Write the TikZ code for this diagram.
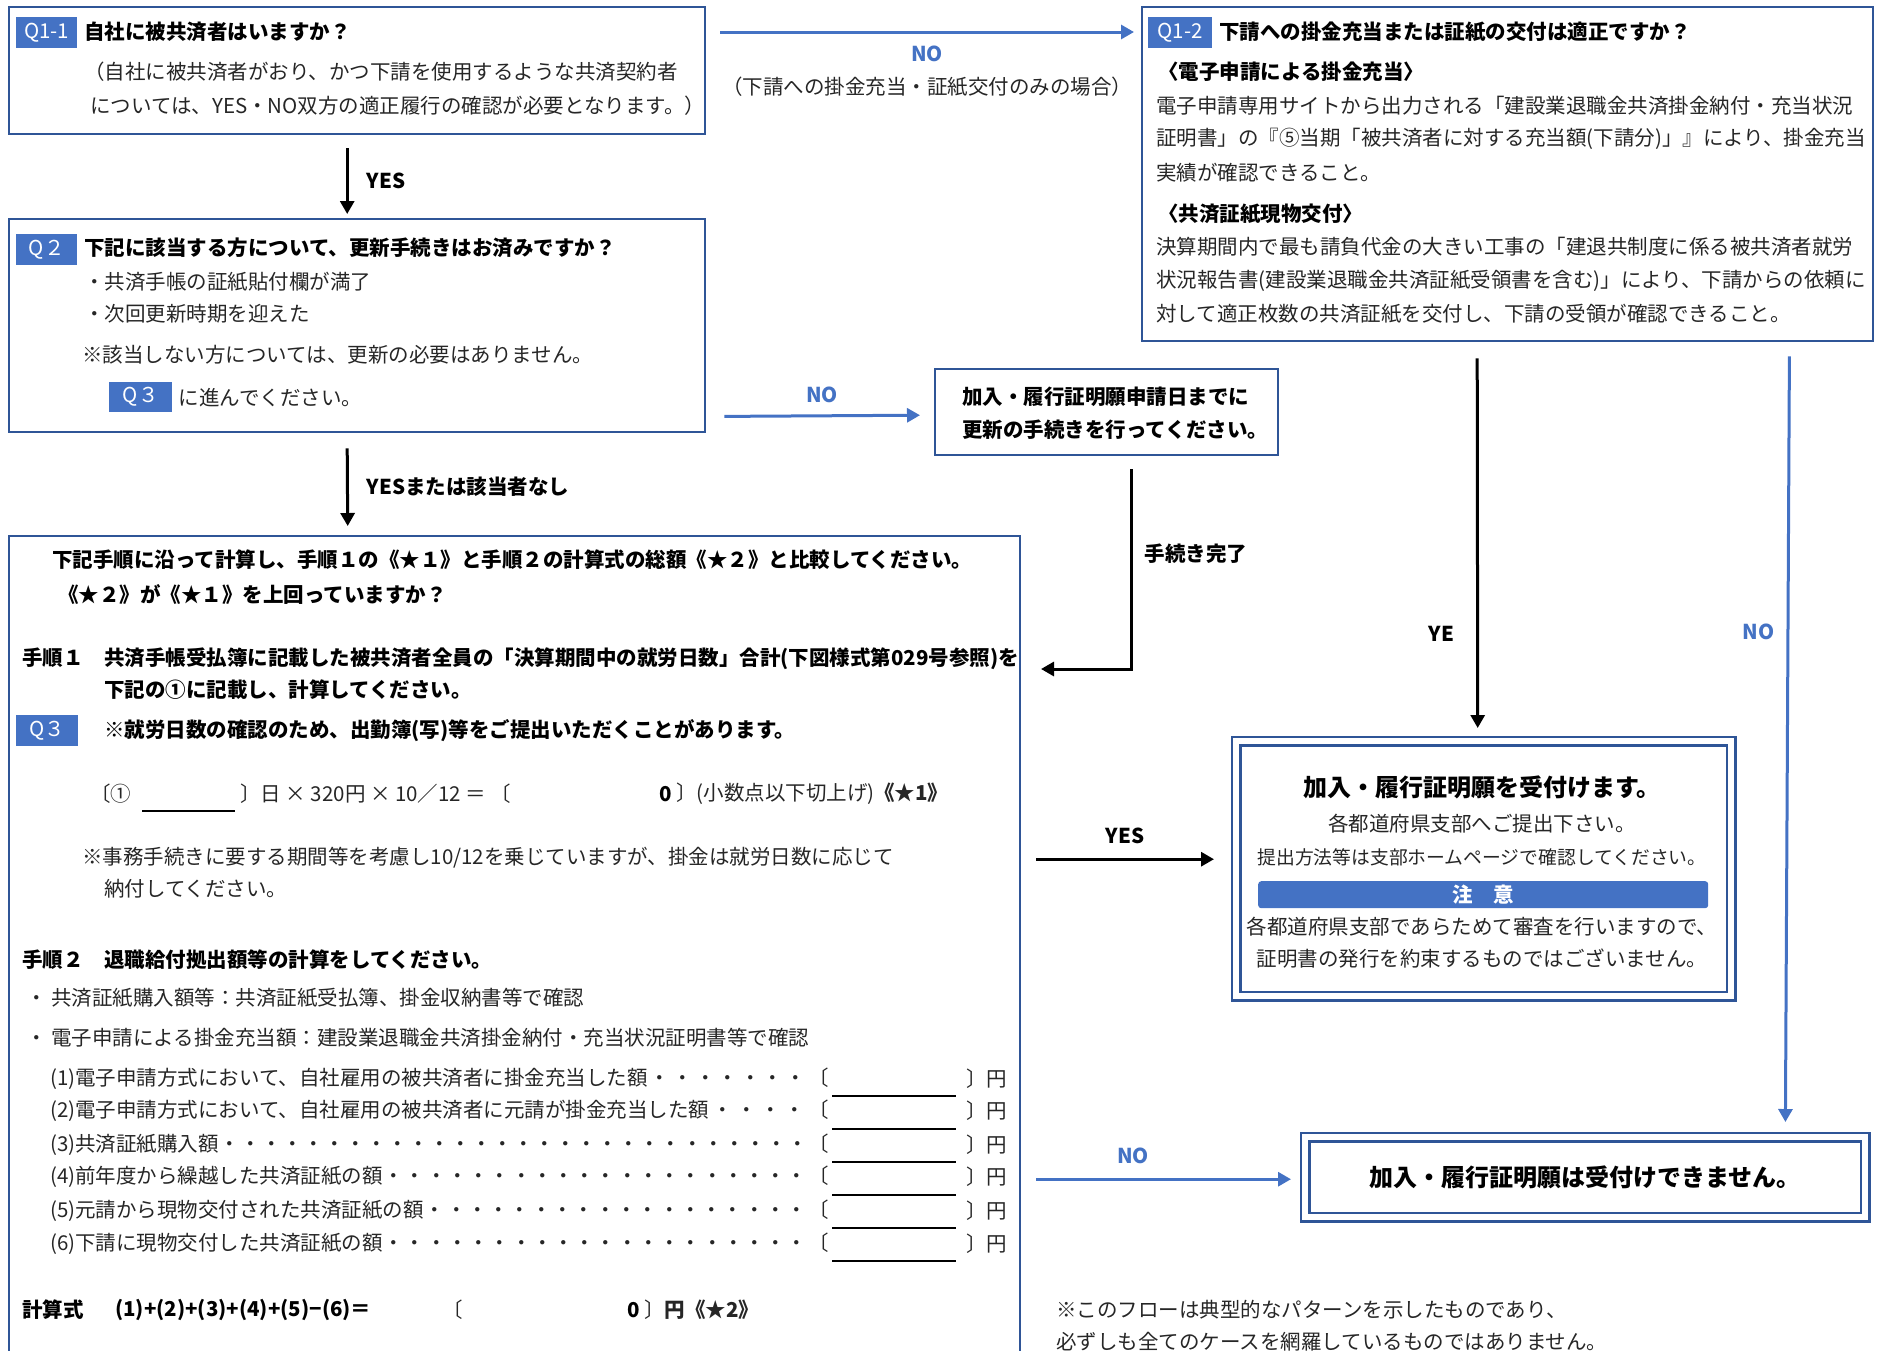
\documentclass[tikz,border=0pt]{standalone}
\usepackage{fontspec}
\setmainfont{Noto Sans CJK JP}
\usetikzlibrary{positioning, arrows.meta}

\definecolor{frameblue}{HTML}{2F5597}
\definecolor{tagblue}{HTML}{4472C4}
\newcommand{\leadrow}[1]{\hbox to 758pt{#1\xleaders\hbox to 20.5pt{\hss・\hss}\hfill}〔}

\begin{document}
\begin{tikzpicture}[
        x=1pt, y=-1pt,
        font=\fontsize{20.5}{25}\selectfont,
        frame/.style={rectangle, draw=frameblue, line width=2.4pt, anchor=north west, inner sep=0pt},
        dframe/.style={frame, double=white, double distance=6pt},
        tag/.style={rectangle, fill=tagblue, text=white, anchor=north west, inner sep=0pt, minimum height=31pt},
        txt/.style={anchor=west, inner sep=0pt, text=black!85},
        btxt/.style={anchor=west, inner sep=0pt, font=\fontsize{20.5}{25}\selectfont\bfseries},
        ctxt/.style={inner sep=0pt, text=black!85},
        lbl/.style={inner sep=0pt, font=\fontsize{20.5}{25}\selectfont\bfseries},
        bluelbl/.style={lbl, text=tagblue},
        arrow/.style={line width=3pt, -{Triangle[length=13pt,width=14pt]}},
        bluearrow/.style={arrow, draw=tagblue},
        blank/.style={line width=2.4pt}
    ]
        \useasboundingbox (0,0) rectangle (1881,1350);

        % Q1-1
        \node[frame, minimum width=696pt, minimum height=127pt] (q11) at (8,6) {};
        \node[tag, minimum width=61pt] (q11tag) at (16,17) {Q1-1};
        \node[btxt] (q11title) at (84,32) {自社に被共済者はいますか？};
        \node[txt] (q11note1) at (84,72) {（自社に被共済者がおり、かつ下請を使用するような共済契約者};
        \node[txt] (q11note2) at (90,106) {については、YES・NO双方の適正履行の確認が必要となります。）};

        % Q2
        \node[frame, minimum width=696pt, minimum height=213pt] (q2) at (8,218) {};
        \node[tag, minimum width=61pt] (q2tag) at (16,234) {Q２};
        \node[btxt] (q2title) at (84,248) {下記に該当する方について、更新手続きはお済みですか？};
        \node[txt] (q2item1) at (84,282) {・共済手帳の証紙貼付欄が満了};
        \node[txt] (q2item2) at (84,314) {・次回更新時期を迎えた};
        \node[txt] (q2note) at (82,355) {※該当しない方については、更新の必要はありません。};
        \node[tag, minimum width=63pt, minimum height=30pt] (q2goto) at (109,382) {Q３};
        \node[txt, right=6pt of q2goto] (q2gotot) {に進んでください。};

        % Q3
        \node[frame, minimum width=1011pt, minimum height=840pt] (q3) at (8,535) {};
        \node[btxt] (q3lead1) at (52,560) {下記手順に沿って計算し、手順１の《★１》と手順２の計算式の総額《★２》と比較してください。};
        \node[btxt] (q3lead2) at (58,594) {《★２》が《★１》を上回っていますか？};
        \node[btxt] (step1a) at (22,659) {手順１　共済手帳受払簿に記載した被共済者全員の「決算期間中の就労日数」合計(下図様式第029号参照)を};
        \node[btxt] (step1b) at (104,690) {下記の①に記載し、計算してください。};
        \node[tag, minimum width=62pt] (q3tag) at (16,715) {Q３};
        \node[btxt] (q3note) at (104,731) {※就労日数の確認のため、出勤簿(写)等をご提出いただくことがあります。};

        \draw[arrow] ([xshift=-10pt,yshift=-13pt]q11.south) -- ([xshift=-10pt,yshift=4pt]q2.north)
            node[lbl, midway, right=18pt] (yes1) {YES};
        \draw[arrow] ([xshift=-10pt,yshift=-15pt]q2.south) -- ([xshift=-167pt,yshift=9pt]q3.north)
            node[lbl, midway, right=18pt] (yes2) {YESまたは該当者なし};

        \node[txt] (f1open) at (90,794) {〔①};
        \draw[blank] (142,811) -- (235,811);
        \node[txt] (f1mid) at (240,794) {〕日 × 320円 × 10／12 ＝ 〔};
        \node[btxt] (f1val) at (659,794) {0};
        \node[txt, right=4pt of f1val] (f1close) {〕(小数点以下切上げ)\textbf{《★1》}};
        \node[txt] (f1note1) at (82,858) {※事務手続きに要する期間等を考慮し10/12を乗じていますが、掛金は就労日数に応じて};
        \node[txt] (f1note2) at (104,889) {納付してください。};

        \node[btxt] (step2) at (22,960) {手順２　退職給付拠出額等の計算をしてください。};
        \node[txt] (src1) at (26,998) {・ 共済証紙購入額等：共済証紙受払簿、掛金収納書等で確認};
        \node[txt] (src2) at (26,1038) {・ 電子申請による掛金充当額：建設業退職金共済掛金納付・充当状況証明書等で確認};

        \node[txt] (item1) at (50,1079) {\leadrow{(1)電子申請方式において、自社雇用の被共済者に掛金充当した額}};
        \node[txt] (item1yen) at (966,1079) {〕円};
        \draw[blank] (832,1096) -- (956,1096);
        \node[txt] (item2) at (50,1111) {\leadrow{(2)電子申請方式において、自社雇用の被共済者に元請が掛金充当した額}};
        \node[txt] (item2yen) at (966,1111) {〕円};
        \draw[blank] (832,1129) -- (956,1129);
        \node[txt] (item3) at (50,1145) {\leadrow{(3)共済証紙購入額}};
        \node[txt] (item3yen) at (966,1145) {〕円};
        \draw[blank] (832,1162) -- (956,1162);
        \node[txt] (item4) at (50,1177) {\leadrow{(4)前年度から繰越した共済証紙の額}};
        \node[txt] (item4yen) at (966,1177) {〕円};
        \draw[blank] (832,1195) -- (956,1195);
        \node[txt] (item5) at (50,1211) {\leadrow{(5)元請から現物交付された共済証紙の額}};
        \node[txt] (item5yen) at (966,1211) {〕円};
        \draw[blank] (832,1228) -- (956,1228);
        \node[txt] (item6) at (50,1244) {\leadrow{(6)下請に現物交付した共済証紙の額}};
        \node[txt] (item6yen) at (966,1244) {〕円};
        \draw[blank] (832,1261) -- (956,1261);

        \node[btxt] (sumlabel) at (22,1310) {計算式};
        \node[btxt] (sumexpr) at (115,1310) {(1)+(2)+(3)+(4)+(5)−(6)＝};
        \node[txt] (sumopen) at (442,1310) {〔};
        \node[btxt] (sumval) at (627,1310) {0};
        \node[txt, right=4pt of sumval] (sumclose) {〕\textbf{円《★2》}};

        % Q1-2
        \node[frame, minimum width=731pt, minimum height=334pt] (q12) at (1141,6) {};
        \node[tag, minimum width=64pt] (q12tag) at (1148,17) {Q1-2};
        \node[btxt] (q12title) at (1219,32) {下請への掛金充当または証紙の交付は適正ですか？};
        \node[btxt] (q12h1) at (1158,72) {〈電子申請による掛金充当〉};
        \node[txt] (q12a1) at (1156,106) {電子申請専用サイトから出力される「建設業退職金共済掛金納付・充当状況};
        \node[txt] (q12a2) at (1156,139) {証明書」の『⑤当期「被共済者に対する充当額(下請分)」』により、掛金充当};
        \node[txt] (q12a3) at (1156,173) {実績が確認できること。};
        \node[btxt] (q12h2) at (1158,214) {〈共済証紙現物交付〉};
        \node[txt] (q12b1) at (1156,247) {決算期間内で最も請負代金の大きい工事の「建退共制度に係る被共済者就労};
        \node[txt] (q12b2) at (1156,281) {状況報告書(建設業退職金共済証紙受領書を含む)」により、下請からの依頼に};
        \node[txt] (q12b3) at (1156,314) {対して適正枚数の共済証紙を交付し、下請の受領が確認できること。};

        \draw[bluearrow] ([xshift=14pt,yshift=-26pt]q11.north east) -- ([xshift=-7pt,yshift=-26pt]q12.north west)
            node[bluelbl, midway, below=12pt] (no1) {NO};
        \node[ctxt, below=14pt of no1] (no1note) {（下請への掛金充当・証紙交付のみの場合）};

        % renewal
        \node[frame, minimum width=343pt, minimum height=86pt] (renew) at (934,368) {};
        \node[btxt] (renew1) at (962,397) {加入・履行証明願申請日までに};
        \node[btxt] (renew2) at (962,430) {更新の手続きを行ってください。};
        \draw[bluearrow] ([xshift=18pt,yshift=17pt]q2.south east) -- ([xshift=-14pt,yshift=-3pt]renew.west)
            node[bluelbl, midway, above=12pt] (no2) {NO};

        \coordinate (doneend) at (1041,669);
        \draw[arrow] ([xshift=24.5pt,yshift=-13pt]renew.south) |- (doneend)
            node[lbl, pos=0.21, right=12pt] (done) {手続き完了};

        % accept
        \node[dframe, minimum width=495pt, minimum height=255pt] (accept) at (1235,740) {};
        \node[lbl, font=\fontsize{24}{28}\selectfont\bfseries] (acctitle) at (1482,787) {加入・履行証明願を受付けます。};
        \node[ctxt] (acc1) at (1482,824) {各都道府県支部へご提出下さい。};
        \node[ctxt, font=\fontsize{18.8}{22}\selectfont] (acc2) at (1482,857) {提出方法等は支部ホームページで確認してください。};
        \node[rectangle, rounded corners=3pt, fill=tagblue, text=white, anchor=north west, inner sep=0pt,
            minimum width=450pt, minimum height=27pt, font=\fontsize{20.5}{25}\selectfont\bfseries] (caution) at (1258,881) {注　意};
        \node[ctxt] (acc3) at (1482,927) {各都道府県支部であらためて審査を行いますので、};
        \node[ctxt] (acc4) at (1482,959) {証明書の発行を約束するものではございません。};

        \draw[arrow] ([xshift=-30.5pt,yshift=-16pt]q12.south) -- ([xshift=-6pt,yshift=12pt]accept.north)
            node[lbl, pos=0.745, left=22pt] (ye) {YE};
        \draw[arrow] ([xshift=15pt,yshift=97pt]q3.east) -- ([xshift=-21pt,yshift=9.5pt]accept.west)
            node[lbl, midway, above=14pt] (yes3) {YES};

        % reject
        \node[dframe, minimum width=560pt, minimum height=80pt, font=\fontsize{24}{28}\selectfont\bfseries] (reject) at (1304,1136) {加入・履行証明願は受付けできません。};
        \draw[bluearrow] ([xshift=-85pt,yshift=-14pt]q12.south east) -- ([xshift=-81pt,yshift=14pt]reject.north east)
            node[bluelbl, pos=0.36, left=12pt] (no3) {NO};
        \draw[bluearrow] ([xshift=15pt,yshift=-223pt]q3.east) -- ([xshift=-13pt,yshift=-2pt]reject.west)
            node[bluelbl, pos=0.38, above=14pt] (no4) {NO};

        \node[txt] (foot1) at (1056,1310) {※このフローは典型的なパターンを示したものであり、};
        \node[txt] (foot2) at (1056,1342) {必ずしも全てのケースを網羅しているものではありません。};
    \end{tikzpicture}
\end{document}
